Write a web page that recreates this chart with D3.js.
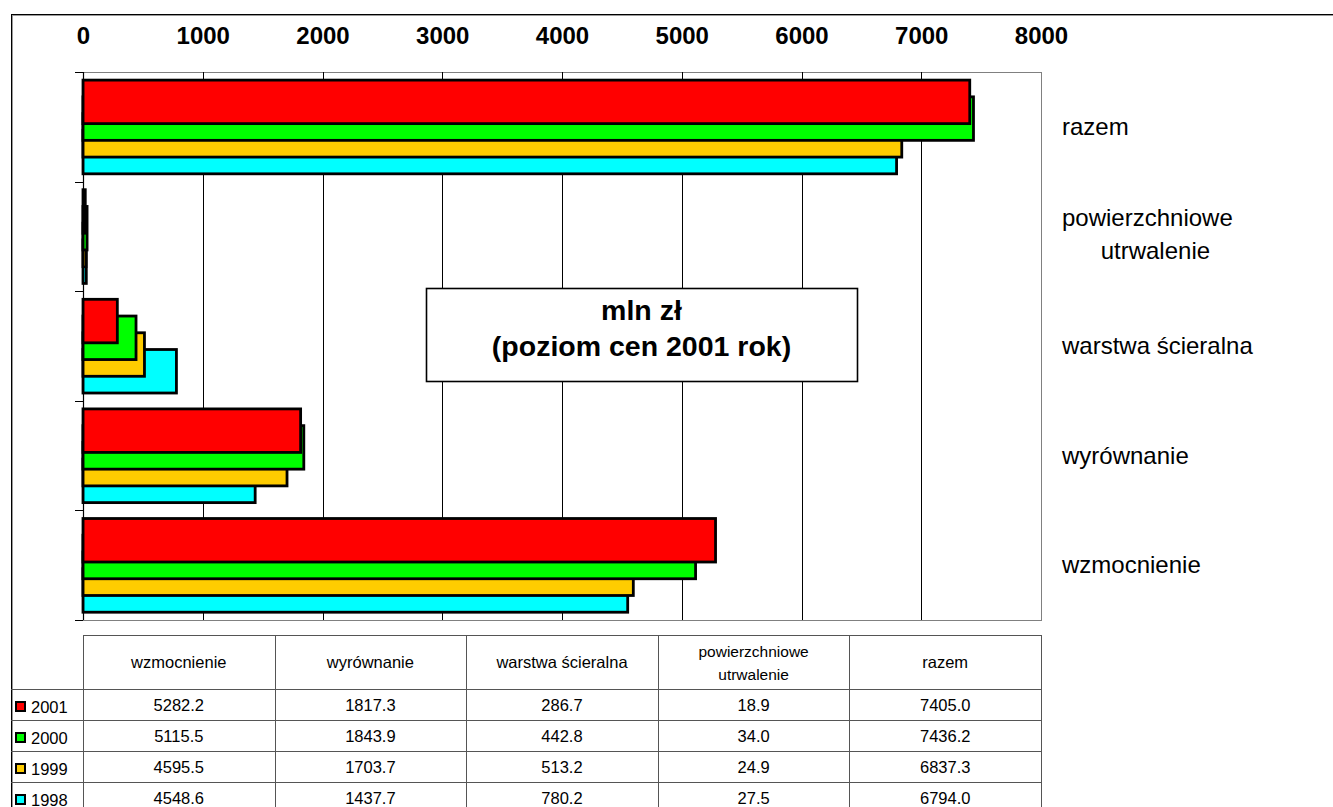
<!DOCTYPE html>
<html>
<head>
<meta charset="utf-8">
<script src="https://cdn.jsdelivr.net/npm/d3@7"></script>
<style>
  html, body { margin: 0; padding: 0; background: #fff; }
  svg { display: block; font-family: "Liberation Sans", Arial, Helvetica, sans-serif; }
</style>
</head>
<body>
<svg id="chart" width="1333" height="807"></svg>
<script>
// Road surface works by type, million zł (2001 price level)
const categories = ["wzmocnienie", "wyrównanie", "warstwa ścieralna", "powierzchniowe utrwalenie", "razem"];
const categoryLines = [["wzmocnienie"], ["wyrównanie"], ["warstwa ścieralna"], ["powierzchniowe", "utrwalenie"], ["razem"]];
const years = ["2001", "2000", "1999", "1998"];
const values2001 = [5282.2, 1817.3, 286.7, 18.9, 7405.0];
const values2000 = [5115.5, 1843.9, 442.8, 34.0, 7436.2];
const values1999 = [4595.5, 1703.7, 513.2, 24.9, 6837.3];
const values1998 = [4548.6, 1437.7, 780.2, 27.5, 6794.0];
const yearColors = ["#ff0000", "#00ff00", "#ffcc00", "#00ffff"];
const xTicks = [0, 1000, 2000, 3000, 4000, 5000, 6000, 7000, 8000];
const boxLines = ["mln zł", "(poziom cen 2001 rok)"];

const seriesValues = [values2001, values2000, values1999, values1998];

const svg = d3.select("#chart");
const W = 1333, H = 807;
const plot = { left: 83, right: 1041, top: 72, bottom: 620 };

// outer frame
svg.append("rect").attr("x", 12.5).attr("y", 15.5).attr("width", W).attr("height", H)
  .attr("fill", "none").attr("stroke", "#9a9a9a").attr("stroke-width", 1);
svg.append("rect").attr("x", 11.5).attr("y", 14.5).attr("width", W).attr("height", H)
  .attr("fill", "none").attr("stroke", "#000").attr("stroke-width", 1);

const x = d3.scaleLinear().domain([0, 8000]).range([plot.left, plot.right]);
// reversed so the first category sits at the bottom
const y = d3.scaleBand().domain(categories.slice().reverse()).range([plot.top, plot.bottom]).padding(0);
const bw = y.bandwidth();
const sOff = d3.scalePoint().domain(years).range([0, bw * 0.458]);
const barH = bw * 0.397;
const barPad = bw * 0.074;

// plot frame
svg.append("rect")
  .attr("x", plot.left + 0.5).attr("y", plot.top + 0.5)
  .attr("width", plot.right - plot.left).attr("height", plot.bottom - plot.top)
  .attr("fill", "none").attr("stroke", "#808080").attr("stroke-width", 1);

// vertical gridlines
svg.append("g").selectAll("line")
  .data(xTicks.filter(t => t > 0 && t < 8000))
  .join("line")
  .attr("x1", d => Math.round(x(d)) + 0.5).attr("x2", d => Math.round(x(d)) + 0.5)
  .attr("y1", plot.top).attr("y2", plot.bottom)
  .attr("stroke", "#000").attr("stroke-width", 1);

// bars, back series first so 2001 sits in front
const yearIdx = years.map((yr, i) => i).reverse();
const bars = svg.append("g");
yearIdx.forEach(si => {
  bars.append("g").selectAll("rect")
    .data(categories.map((c, ci) => ({ c, v: seriesValues[si][ci] })))
    .join("rect")
    .attr("x", x(0))
    .attr("y", d => y(d.c) + barPad + sOff(years[si]))
    .attr("width", d => x(d.v) - x(0))
    .attr("height", barH)
    .attr("fill", yearColors[si])
    .attr("stroke", "#000")
    .attr("stroke-width", 2.8)
    .attr("stroke-linejoin", "miter");
});

// category axis (left) with ticks at band edges
const edges = y.domain().map(c => y(c)).concat([plot.bottom]);
const yAxis = svg.append("g");
yAxis.append("line")
  .attr("x1", plot.left + 0.5).attr("x2", plot.left + 0.5)
  .attr("y1", plot.top).attr("y2", plot.bottom)
  .attr("stroke", "#000").attr("stroke-width", 1.2);
yAxis.selectAll("line.tick").data(edges).join("line")
  .attr("class", "tick")
  .attr("x1", plot.left - 8).attr("x2", plot.left)
  .attr("y1", d => Math.round(d) + 0.5).attr("y2", d => Math.round(d) + 0.5)
  .attr("stroke", "#000").attr("stroke-width", 1);

// value axis labels on top
const xAxis = svg.append("g")
  .attr("transform", `translate(0,${plot.top})`)
  .call(d3.axisTop(x).tickValues(xTicks).tickSize(0).tickPadding(28).tickFormat(d3.format("d")));
xAxis.select(".domain").remove();
xAxis.selectAll("text")
  .attr("font-family", "\"Liberation Sans\", Arial, sans-serif")
  .attr("font-size", 24).attr("font-weight", "bold").attr("fill", "#000");

// category labels on the right
const labX = 1062;
const labG = svg.append("g").attr("font-size", 24).attr("fill", "#000");
categories.forEach((c, ci) => {
  const lines = categoryLines[ci];
  const g = labG.append("g");
  const cy = y(c) + bw / 2;
  const lh = 33;
  const texts = lines.map((ln, li) => g.append("text")
    .attr("y", cy + (lines.length > 1 ? 6 : 8) + (li - (lines.length - 1) / 2) * lh)
    .attr("text-anchor", "middle")
    .text(ln));
  const wMax = d3.max(texts, t => t.node().getComputedTextLength());
  texts.forEach((t, li) => t.attr("x", labX + wMax / 2 + (li > 0 ? 8 : 0)));
});

// units box
const box = { x: 426, y: 288, w: 431, h: 93 };
svg.append("rect")
  .attr("x", box.x + 0.5).attr("y", box.y + 0.5).attr("width", box.w).attr("height", box.h)
  .attr("fill", "#fff").attr("stroke", "#000").attr("stroke-width", 1.6);
svg.append("g").selectAll("text").data(boxLines).join("text")
  .attr("x", box.x + box.w / 2)
  .attr("y", (d, i) => 320 + i * 36)
  .attr("text-anchor", "middle")
  .attr("font-size", 28.5).attr("font-weight", "bold")
  .text(d => d);

// data table beneath the chart
const col = d3.scaleBand().domain(categories).range([plot.left, plot.right]).padding(0);
const headTop = 635, headBot = 689, rowH = 31;
const rowY = d3.scaleBand().domain(years).range([headBot, headBot + rowH * years.length]).padding(0);
const tbl = svg.append("g").attr("font-size", 16.5).attr("fill", "#000");
const gridC = "#555";

// horizontal rules
[headTop].forEach(yy => tbl.append("line")
  .attr("x1", plot.left).attr("x2", plot.right + 1)
  .attr("y1", yy + 0.5).attr("y2", yy + 0.5).attr("stroke", gridC));
years.forEach(yr => tbl.append("line")
  .attr("x1", 11).attr("x2", plot.right + 1)
  .attr("y1", Math.round(rowY(yr)) + 0.5).attr("y2", Math.round(rowY(yr)) + 0.5)
  .attr("stroke", gridC));
// vertical rules
categories.map(c => col(c)).concat([plot.right]).forEach(xx => tbl.append("line")
  .attr("x1", Math.round(xx) + 0.5).attr("x2", Math.round(xx) + 0.5)
  .attr("y1", headTop).attr("y2", H)
  .attr("stroke", gridC));

// header cells
categories.forEach((c, ci) => {
  const lines = categoryLines[ci];
  const cx = col(c) + col.bandwidth() / 2;
  const small = lines.length > 1;
  lines.forEach((ln, li) => tbl.append("text")
    .attr("x", cx)
    .attr("y", (headTop + headBot) / 2 + 6 + (li - (lines.length - 1) / 2) * 23)
    .attr("text-anchor", "middle")
    .attr("font-size", small ? 15.5 : 16.5)
    .text(ln));
});

// value cells and legend keys
years.forEach((yr, si) => {
  const cy = rowY(yr) + rowY.bandwidth() / 2;
  categories.forEach((c, ci) => tbl.append("text")
    .attr("x", col(c) + col.bandwidth() / 2)
    .attr("y", cy + 6.5)
    .attr("text-anchor", "middle")
    .text(seriesValues[si][ci].toFixed(1)));
  tbl.append("rect")
    .attr("x", 16).attr("y", cy - 2.5).attr("width", 9).attr("height", 9)
    .attr("fill", yearColors[si]).attr("stroke", "#000").attr("stroke-width", 2);
  tbl.append("text")
    .attr("x", 31).attr("y", cy + 8)
    .attr("font-size", 16.5)
    .text(yr);
});
</script>
</body>
</html>
